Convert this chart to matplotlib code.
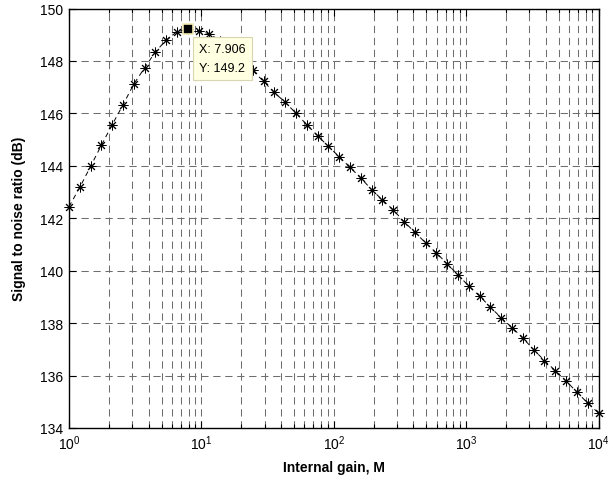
import numpy as np
import matplotlib
matplotlib.use("Agg")
import matplotlib.pyplot as plt
from matplotlib.ticker import LogLocator, NullFormatter

plt.rcParams['font.family'] = ['Liberation Sans', 'DejaVu Sans']
plt.rcParams['mathtext.default'] = 'regular'

# Data: internal gain (logspaced, 50 points from 1 to 1e4) and SNR in dB
gain_exp_start = 0
gain_exp_stop = 4
n_points = 50
gain = np.logspace(gain_exp_start, gain_exp_stop, n_points)
snr_db = [142.44, 143.18, 143.98, 144.79, 145.57, 146.33, 147.12, 147.74, 148.35, 148.80,
          149.12, 149.20, 149.15, 149.03, 148.77, 148.43, 148.05, 147.64, 147.22, 146.80,
          146.42, 146.01, 145.57, 145.15, 144.74, 144.35, 143.94, 143.54, 143.09, 142.70,
          142.32, 141.87, 141.47, 141.06, 140.68, 140.26, 139.84, 139.41, 139.03, 138.61,
          138.20, 137.83, 137.43, 136.99, 136.57, 136.19, 135.79, 135.37, 134.95, 134.57]
tip_x = 7.906
tip_y = 149.2
y_ticks = [134, 136, 138, 140, 142, 144, 146, 148, 150]

fig = plt.figure(figsize=(6.13, 4.81), dpi=100)
ax = fig.add_axes([69/613, 1-429/481, (598.5-69)/613, (429-9.5)/481])

ax.plot(gain, snr_db, color='black', linestyle='--', linewidth=0.7,
        marker=(8, 2, 0), markersize=7, markeredgewidth=0.7, dashes=(5, 4),
        clip_on=False, zorder=3)

ax.set_xscale('log')
ax.set_xlim(1, 1e4)
ax.set_ylim(134, 150)
ax.set_yticks(y_ticks)
ax.xaxis.set_major_locator(LogLocator(base=10, numticks=10))
ax.xaxis.set_minor_locator(LogLocator(base=10, subs=np.arange(2, 10), numticks=20))
ax.xaxis.set_minor_formatter(NullFormatter())

gcol = '#6e6e6e'
ax.grid(True, which='major', axis='both', color=gcol, linewidth=0.75, dashes=(7, 4.5))
ax.grid(True, which='minor', axis='x', color=gcol, linewidth=0.75, dashes=(7, 4.5))
ax.set_axisbelow(True)

ax.tick_params(which='both', direction='in', top=True, right=True, labelsize=10, width=0.8)
ax.tick_params(which='major', length=5, pad=4)
ax.tick_params(which='minor', length=3)
for s in ax.spines.values():
    s.set_linewidth(1.0)

ax.set_xlabel('Internal gain, M', fontsize=10, fontweight='bold', labelpad=6)
ax.set_ylabel('Signal to noise ratio (dB)', fontsize=10, fontweight='bold', labelpad=10)

# data tip
ax.plot([tip_x], [tip_y], marker='s', markersize=7.5, markerfacecolor='black',
        markeredgecolor='#f2ebb5', markeredgewidth=1.2, zorder=6, linestyle='none')
ax.annotate('X: %.3f\nY: %.1f' % (tip_x, tip_y), xy=(tip_x, tip_y),
            xytext=(11, -14), textcoords='offset pixels', ha='left', va='top',
            fontsize=9, linespacing=1.7, zorder=5,
            bbox=dict(boxstyle='square,pad=0.5', facecolor='#ffffe1', edgecolor='#d8d5b0', linewidth=0.8))

fig.savefig('out.png', dpi=100)
